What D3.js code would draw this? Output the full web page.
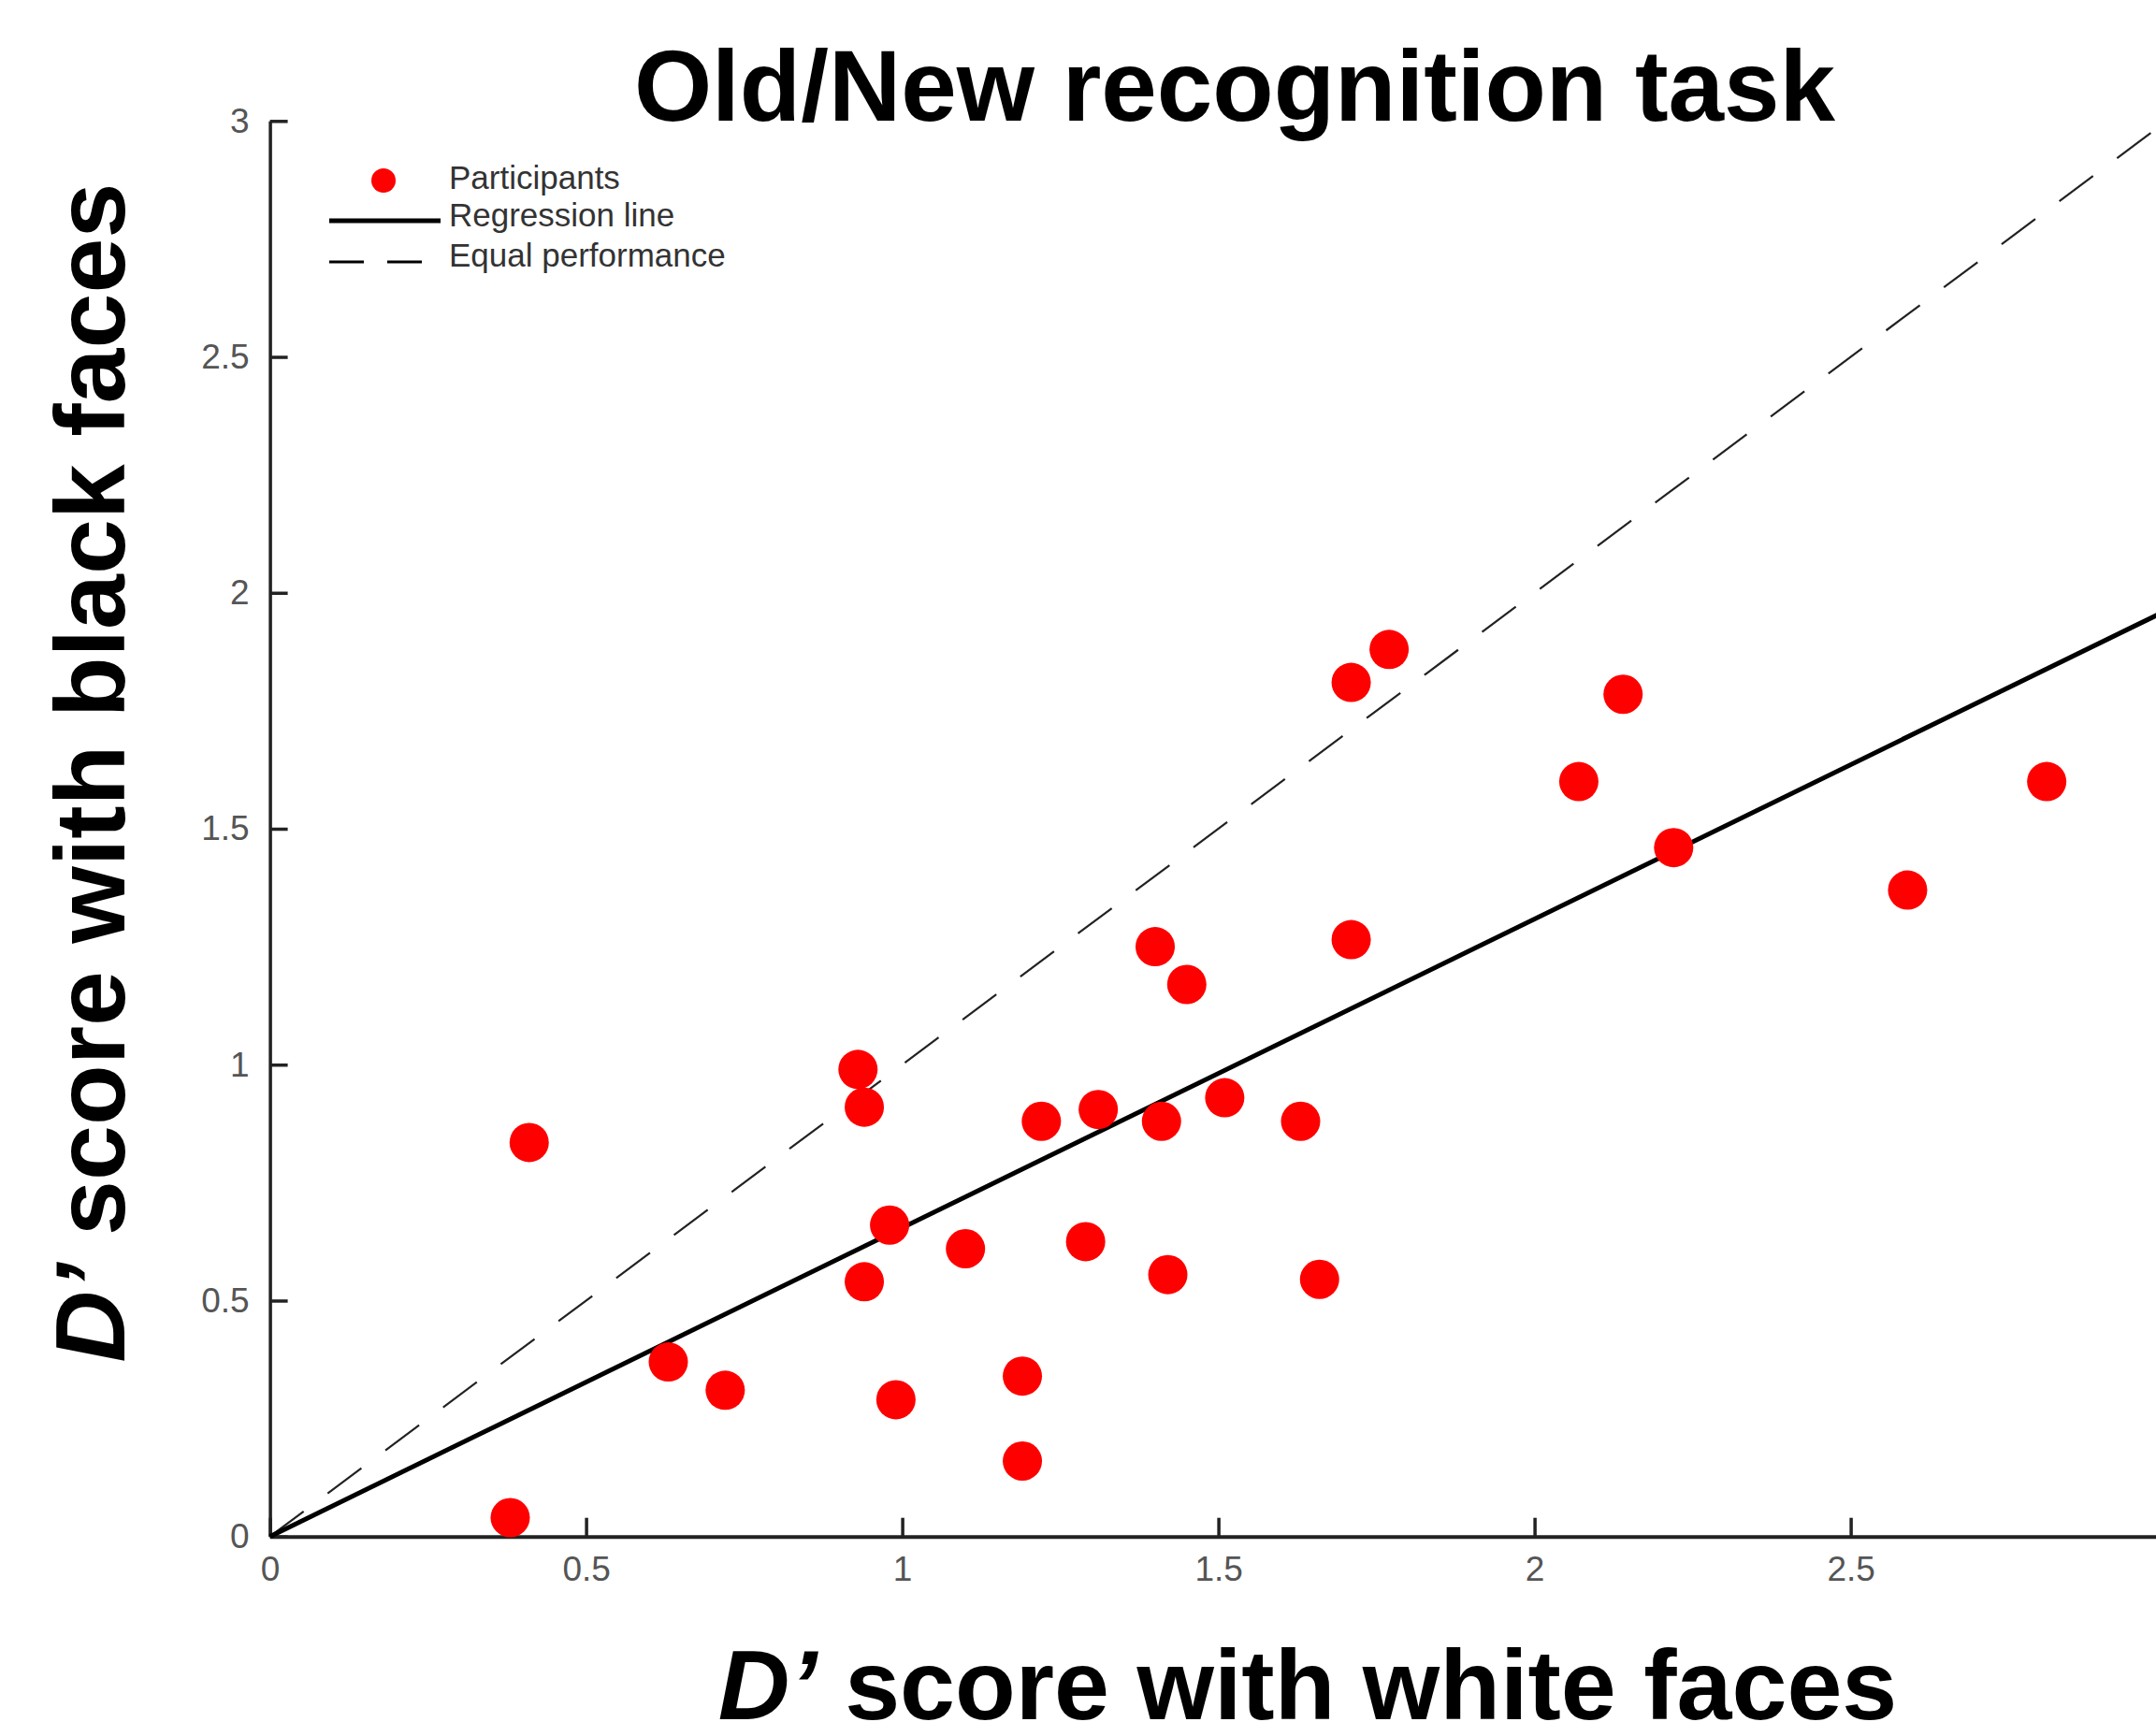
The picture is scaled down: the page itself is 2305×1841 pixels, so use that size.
<!DOCTYPE html>
<html>
  <head>
    <meta charset="utf-8">
    <script src="https://d3js.org/d3.v7.min.js"></script>
    <style>
      body {
        margin: 0;
        background: #fff;
        font-family: "Liberation Sans", Arial, Helvetica, sans-serif;
      }
      .tick text {
        fill: #555;
      }
    </style>
  </head>
  <body>
    <div id="chart"></div>
    <script>
      // participants: d' with white faces (x) and black faces (y)
      var whiteScores = [0.38, 0.41, 0.63, 0.72, 0.93, 0.94, 0.94, 0.98, 0.99, 1.10,
                         1.19, 1.19, 1.22, 1.29, 1.31, 1.40, 1.41, 1.42, 1.45, 1.51,
                         1.63, 1.66, 1.71, 1.71, 1.77, 2.07, 2.14, 2.22, 2.59, 2.81]
      var blackScores = [0.04, 0.835, 0.37, 0.31, 0.99, 0.91, 0.54, 0.66, 0.29, 0.61,
                         0.16, 0.34, 0.88, 0.625, 0.905, 1.25, 0.88, 0.555, 1.17, 0.93,
                         0.88, 0.545, 1.81, 1.265, 1.88, 1.60, 1.785, 1.46, 1.37, 1.60]

      // end points of the two reference lines
      var regressionLine = [[0, 0], [3, 1.963]]
      var equalLine = [[0, 0], [3, 3]]

      var tickValues = [0, 0.5, 1, 1.5, 2, 2.5, 3]
      var tickLabels = ['0', '0.5', '1', '1.5', '2', '2.5', '3']

      var legendItems = ['Participants', 'Regression line', 'Equal performance']

      var width = 2305
      var height = 1841

      var x = d3.scaleLinear().domain([0, 3]).range([288.6, 2316.6])
      var y = d3.scaleLinear().domain([0, 3]).range([1642.7, 129.3])

      var svg = d3.select('#chart').append('svg')
        .attr('width', width)
        .attr('height', height)

      //axes, ticks point inward
      var xAxis = svg.append('g')
        .attr('transform', 'translate(0,' + y(0) + ')')
        .call(d3.axisBottom(x)
          .tickValues(tickValues)
          .tickFormat(function(d, i) { return tickLabels[i] })
          .tickSizeInner(-20)
          .tickSizeOuter(0)
          .tickPadding(21))
      xAxis.select('.domain').attr('stroke', '#222').attr('stroke-width', 4)
      xAxis.selectAll('.tick line').attr('stroke', '#222').attr('stroke-width', 3.5)
      xAxis.selectAll('.tick text')
        .style('font-size', '37px')
        .style('font-family', '"Liberation Sans", Arial, sans-serif')

      var yAxis = svg.append('g')
        .attr('transform', 'translate(' + x(0) + ',0)')
        .call(d3.axisLeft(y)
          .tickValues(tickValues)
          .tickFormat(function(d, i) { return tickLabels[i] })
          .tickSizeInner(-19)
          .tickSizeOuter(0)
          .tickPadding(22))
      yAxis.select('.domain').attr('stroke', '#222').attr('stroke-width', 3.5)
      yAxis.selectAll('.tick line').attr('stroke', '#222').attr('stroke-width', 3.5)
      yAxis.selectAll('.tick text')
        .style('font-size', '37px')
        .style('font-family', '"Liberation Sans", Arial, sans-serif')

      var line = d3.line()
        .x(function(d) { return x(d[0]) })
        .y(function(d) { return y(d[1]) })

      //equal performance
      svg.append('path')
        .attr('d', line(equalLine))
        .attr('fill', 'none')
        .attr('stroke', '#222')
        .attr('stroke-width', 2.2)
        .attr('stroke-dasharray', '45,32')

      //regression
      svg.append('path')
        .attr('d', line(regressionLine))
        .attr('fill', 'none')
        .attr('stroke', '#000')
        .attr('stroke-width', 5)

      //participants
      svg.append('g').selectAll('circle')
        .data(whiteScores)
        .enter().append('circle')
          .attr('cx', function(d) { return x(d) })
          .attr('cy', function(d, i) { return y(blackScores[i]) })
          .attr('r', 21)
          .attr('fill', '#ff0000')

      //legend
      var legend = svg.append('g')
      legend.append('circle')
        .attr('cx', 410).attr('cy', 193).attr('r', 13)
        .attr('fill', '#ff0000')
      legend.append('line')
        .attr('x1', 352).attr('x2', 471).attr('y1', 236).attr('y2', 236)
        .attr('stroke', '#000').attr('stroke-width', 5)
      legend.append('line')
        .attr('x1', 352).attr('x2', 451).attr('y1', 280).attr('y2', 280)
        .attr('stroke', '#000').attr('stroke-width', 3)
        .attr('stroke-dasharray', '37,25')
      legend.selectAll('text')
        .data(legendItems)
        .enter().append('text')
          .attr('x', 480)
          .attr('y', function(d, i) { return [202, 242, 285][i] })
          .style('font-size', '35px')
          .style('fill', '#333')
          .text(function(d) { return d })

      //title
      svg.append('text')
        .attr('x', 1320)
        .attr('y', 129)
        .attr('text-anchor', 'middle')
        .style('font-size', '107px')
        .style('font-weight', 'bold')
        .style('fill', '#000')
        .text('Old/New recognition task')

      //axis titles
      var xt = svg.append('text')
        .attr('x', 1398)
        .attr('y', 1838)
        .attr('text-anchor', 'middle')
        .style('font-size', '106px')
        .style('font-weight', 'bold')
      xt.append('tspan').style('font-style', 'italic').text('D\u2019')
      xt.append('tspan').text(' score with white faces')

      var yt = svg.append('text')
        .attr('transform', 'translate(133,826) rotate(-90)')
        .attr('text-anchor', 'middle')
        .style('font-size', '106px')
        .style('font-weight', 'bold')
      yt.append('tspan').style('font-style', 'italic').text('D\u2019')
      yt.append('tspan').text(' score with black faces')
    </script>
  </body>
</html>
